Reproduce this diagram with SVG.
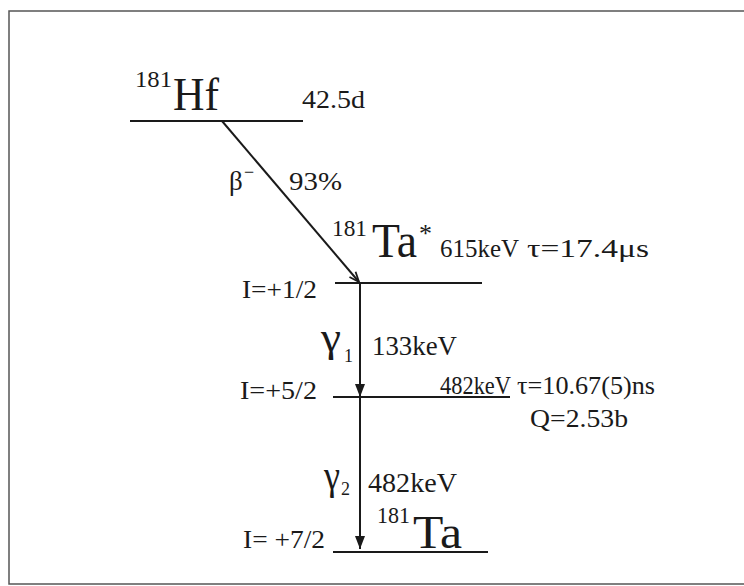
<svg xmlns="http://www.w3.org/2000/svg" width="744" height="586" viewBox="0 0 744 586">
<style>
text{font-family:"Liberation Serif","Times New Roman",serif;fill:#1a1a1a}
.lvl{stroke:#1a1a1a;stroke-width:2;fill:none}
.con{stroke:#1a1a1a;stroke-width:2;fill:none}
</style>
<defs>
<marker id="open" viewBox="0 0 12 10" refX="11" refY="5" markerWidth="12" markerHeight="10" markerUnits="userSpaceOnUse" orient="auto">
<path d="M1,1 L11,5 L1,9" fill="none" stroke="#1a1a1a" stroke-width="1.8"/>
</marker>
<marker id="fill" viewBox="0 0 13 10" refX="13" refY="5" markerWidth="13" markerHeight="10" markerUnits="userSpaceOnUse" orient="auto">
<path d="M0,0 L13,5 L0,10 Z" fill="#1a1a1a"/>
</marker>
</defs>
<rect width="744" height="586" fill="#ffffff"/>
<path d="M744,11 H9 V584 H744" fill="none" stroke="#555" stroke-width="1.5"/>

<g id="hf181">
<line class="lvl" x1="130" y1="121" x2="303" y2="121"/>
<text x="135" y="87" font-size="24" textLength="37" lengthAdjust="spacingAndGlyphs">181</text>
<text x="173" y="110" font-size="46" textLength="46" lengthAdjust="spacingAndGlyphs">Hf</text>
<text x="302" y="108" font-size="25" textLength="63" lengthAdjust="spacingAndGlyphs">42.5d</text>
</g>

<g id="ta181m">
<line class="lvl" x1="335" y1="283" x2="482" y2="283"/>
<text x="332" y="236" font-size="24" textLength="35" lengthAdjust="spacingAndGlyphs">181</text>
<text x="372" y="257" font-size="48" textLength="45" lengthAdjust="spacingAndGlyphs">Ta</text>
<text x="419" y="242" font-size="26">*</text>
<text x="440" y="257" font-size="25" textLength="79" lengthAdjust="spacingAndGlyphs">615keV</text>
<text x="527" y="257" font-size="25" textLength="122" lengthAdjust="spacingAndGlyphs">τ=17.4μs</text>
<text x="242" y="298" font-size="26" textLength="75" lengthAdjust="spacingAndGlyphs">I=+1/2</text>
</g>

<g id="ta181i">
<line class="lvl" x1="333" y1="397" x2="510" y2="397"/>
<text x="240" y="399" font-size="26" textLength="77" lengthAdjust="spacingAndGlyphs">I=+5/2</text>
<text x="440" y="394" font-size="25" textLength="71" lengthAdjust="spacingAndGlyphs">482keV</text>
<text x="517" y="394" font-size="26" textLength="138" lengthAdjust="spacingAndGlyphs">τ=10.67(5)ns</text>
<text x="530" y="427" font-size="26" textLength="98" lengthAdjust="spacingAndGlyphs">Q=2.53b</text>
</g>

<g id="ta181g">
<line class="lvl" x1="333" y1="552" x2="488" y2="552"/>
<text x="377" y="523" font-size="24" textLength="33" lengthAdjust="spacingAndGlyphs">181</text>
<text x="413" y="548" font-size="46" textLength="49" lengthAdjust="spacingAndGlyphs">Ta</text>
<text x="243" y="548" font-size="26" textLength="82" lengthAdjust="spacingAndGlyphs">I= +7/2</text>
</g>

<g id="connectors">
<line class="con" x1="222" y1="121" x2="359" y2="282" marker-end="url(#open)"/>
<line class="con" x1="360" y1="283" x2="360" y2="397" marker-end="url(#fill)"/>
<line class="con" x1="360" y1="397" x2="360" y2="549" marker-end="url(#fill)"/>
<text x="229" y="190" font-size="27">β</text>
<text x="244" y="178" font-size="18">−</text>
<text x="289" y="190" font-size="26" textLength="53" lengthAdjust="spacingAndGlyphs">93%</text>
<text x="321" y="351" font-size="40" textLength="20" lengthAdjust="spacingAndGlyphs">γ</text>
<text x="344" y="362" font-size="18">1</text>
<text x="372" y="355" font-size="27" textLength="85" lengthAdjust="spacingAndGlyphs">133keV</text>
<text x="324" y="489" font-size="40" textLength="16" lengthAdjust="spacingAndGlyphs">γ</text>
<text x="341" y="495" font-size="18">2</text>
<text x="368" y="492" font-size="27" textLength="89" lengthAdjust="spacingAndGlyphs">482keV</text>
</g>
</svg>
